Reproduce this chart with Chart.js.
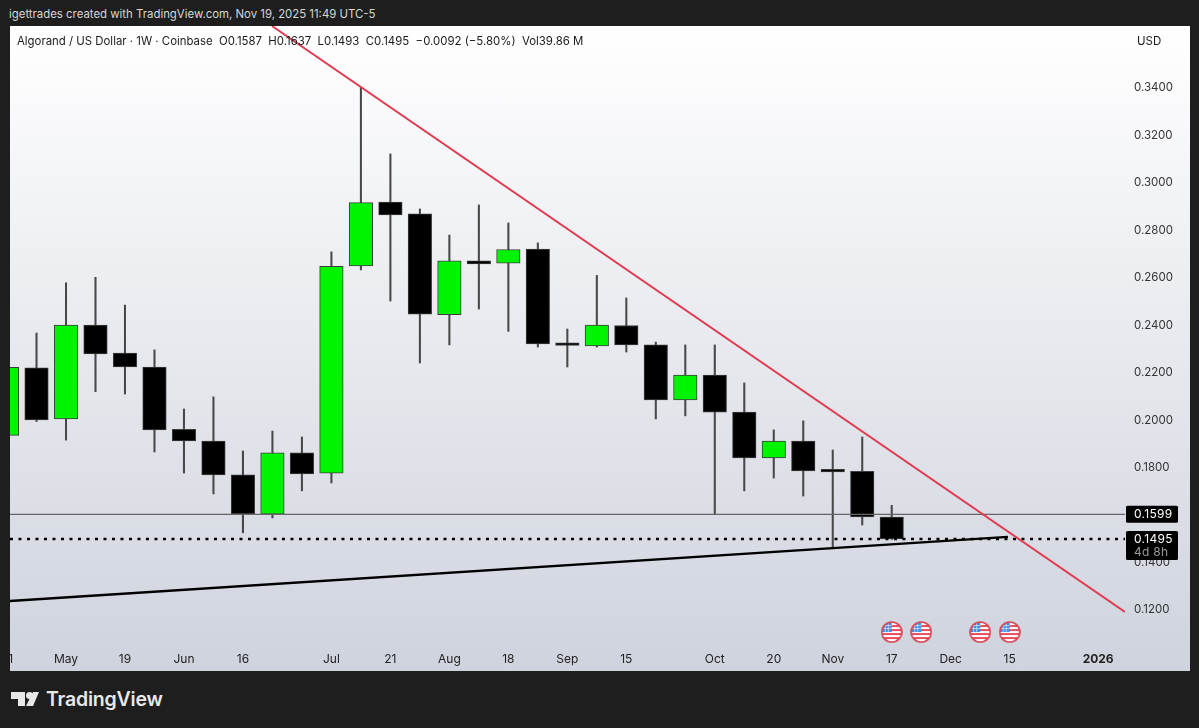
<!DOCTYPE html>
<html><head><meta charset="utf-8">
<script src="https://cdn.jsdelivr.net/npm/chart.js@4/dist/chart.umd.min.js"></script>
<style>
html,body{margin:0;padding:0;background:#1e1e1e;width:1199px;height:728px;overflow:hidden}
#panel{position:absolute;left:10px;top:26px;width:1180px;height:645px;background:linear-gradient(#ffffff,#cfd3dd)}
canvas{position:absolute;left:10px;top:26px}
.t{position:absolute;white-space:pre;font-family:Inter,"Noto Sans",sans-serif}
</style></head><body>
<div id="panel"></div>
<canvas id="c" width="1180" height="645" style="width:1180px;height:645px"></canvas>
<div class="t" style="left:9px;top:6px;font-size:11.4px;line-height:16px;color:#d6d6d6">igettrades created with TradingView.com, Nov 19, 2025 11:49 UTC-5</div>
<div class="t" style="left:17px;top:33px;font-size:11.4px;line-height:16px;color:#1a1a1a">Algorand / US Dollar · 1W · Coinbase  O0.1587  H0.1637  L0.1493  C0.1495  −0.0092 (−5.80%)  Vol39.86 M</div>
<div class="t" style="left:1137px;top:33px;font-size:11.5px;line-height:16px;color:#1a1a1a">USD</div>
<svg style="position:absolute;left:0;top:680px" width="50" height="40"><g fill="#e8e8e8"><path d="M11 12h14v14h-7v-7h-7z"/><circle cx="29.5" cy="15.5" r="3.5"/><path d="M33 12h6l-6 14h-7z"/></g></svg>
<div class="t" style="left:46px;top:687px;font-size:19.5px;line-height:24px;font-weight:600;color:#e8e8e8;letter-spacing:-.2px">TradingView</div>
<script>
// Weekly candles, index 0 = Apr 21 2025
const weeks = [0,1,2,3,4,5,6,7,8,9,10,11,12,13,14,15,16,17,18,19,20,21,22,23,24,25,26,27,28,29,30];
const opens  = [.1932,.2216,.2001,.2397,.2279,.2220,.1957,.1908,.1765,.1600,.1858,.1773,.2646,.2915,.2865,.2441,.2667,.2658,.2717,.2317,.2309,.2395,.2313,.2081,.2186,.2030,.1837,.1908,.1784,.1780,.1587];
const highs  = [.2219,.2363,.2575,.2598,.2481,.2292,.2043,.2094,.1866,.1950,.1925,.2705,.3400,.3118,.2886,.2776,.2903,.2827,.2743,.2380,.2606,.2511,.2325,.2313,.2313,.2153,.1955,.1993,.1870,.1925,.1637];
const lows   = [.1932,.1990,.1912,.2116,.2106,.1862,.1773,.1685,.1521,.1584,.1698,.1731,.2629,.2498,.2237,.2313,.2464,.2370,.2304,.2220,.2304,.2283,.2001,.2014,.1601,.1698,.1752,.1676,.1457,.1554,.1493];
const closes = [.2219,.1997,.2397,.2275,.2220,.1955,.1908,.1765,.1601,.1858,.1769,.2644,.2913,.2861,.2443,.2667,.2654,.2715,.2317,.2311,.2397,.2313,.2081,.2186,.2030,.1837,.1908,.1782,.1778,.1588,.1495];

const xTickWeeks  = [0,2,4,6,8,11,13,15,17,19,21,24,26,28,30,32,34,37];
const xTickLabels = ['21','May','19','Jun','16','Jul','21','Aug','18','Sep','15','Oct','20','Nov','17','Dec','15','2026'];
const yTicks = [.34,.32,.30,.28,.26,.24,.22,.20,.18,.14,.12];

const redLineX = [8.985,37.91],  redLineY = [.3657,.1188];
const supportX = [0.10,33.94],  supportY = [.1234,.1504];
const levelX   = [0.10,37.91];
const levelPrice = .1599, lastPrice = .1495;
const countdown = '4d 8h';
const eventWeeks = [30,31,33,34];
const eventLevel = .1103;

const xMin = 0.101, xMax = 37.91, yMin = .10483, yMax = .36571;
const UP = '#00f400', DOWN = '#000000', EDGE = '#3c3c3c', WICK = '#484848';

function zip(xs, ys){ return xs.map((x,i)=>({x, y:ys[i]})); }

function flagIcon(){
  const s=22, cv=document.createElement('canvas'); cv.width=s; cv.height=s;
  const g=cv.getContext('2d'), r=s/2;
  g.save(); g.beginPath(); g.arc(r,r,r-1,0,7); g.fillStyle='#fff'; g.fill(); g.clip();
  g.fillStyle='#ea4d5c';
  [[8,2],[12,2],[16,2]].forEach(b=>g.fillRect(0,b[0],s,b[1]));
  g.fillRect(11,4,s,2);
  g.fillStyle='#3f8fe8'; g.fillRect(0,0,11,11);
  g.fillStyle='rgba(255,255,255,.7)';
  [4,7].forEach(v=>{g.fillRect(v,0,.8,11);g.fillRect(0,v,11,.8);});
  g.restore();
  g.beginPath(); g.arc(r,r,r-1,0,7); g.strokeStyle='#d8414f'; g.lineWidth=1.6; g.stroke();
  return cv;
}

const priceTags = {
  id:'priceTags',
  afterDraw(ch){
    const g=ch.ctx, y=ch.scales.y, a=ch.chartArea, x0=a.right+1, w=52;
    const rr=(top,h)=>{g.beginPath();g.roundRect(x0,top,w,h,1.5);g.fillStyle='#000';g.fill();};
    g.save();
    g.textBaseline='middle'; g.textAlign='left'; g.font='12px Inter, sans-serif'; g.letterSpacing='0.3px';
    const py=y.getPixelForValue(levelPrice), ly=y.getPixelForValue(lastPrice);
    rr(py-8.5,17); rr(ly-8,29);
    g.fillStyle='#fff';
    g.fillText(levelPrice.toFixed(4),x0+8,py+.5);
    g.fillText(lastPrice.toFixed(4),x0+8,ly+.5);
    g.fillStyle='#9a9a9a';
    g.fillText(countdown,x0+8,ly+13.5);
    g.restore();
  }
};

function noEdgePadding(s){
  s._calculatePadding=function(){this.paddingLeft=this.paddingRight=this.paddingTop=this.paddingBottom=0;};
}

new Chart(document.getElementById('c'),{
  type:'bar',
  plugins:[priceTags],
  data:{datasets:[
    {type:'line',label:'Resistance',data:zip(redLineX,redLineY),borderColor:'#e23a50',borderWidth:2,pointRadius:0,order:0},
    {type:'line',label:'Support',data:zip(supportX,supportY),borderColor:'#000',borderWidth:2.4,pointRadius:0,order:1},
    {type:'line',label:'Last',data:zip(levelX,[lastPrice,lastPrice]),borderColor:'#000',borderWidth:2.6,borderDash:[3,5.5],pointRadius:0,order:1},
    {type:'line',label:'Level',data:zip(levelX,[levelPrice,levelPrice]),borderColor:'#666',borderWidth:1.4,pointRadius:0,order:2},
    {type:'line',label:'Events',data:eventWeeks.map(x=>({x,y:eventLevel})),showLine:false,pointStyle:flagIcon(),pointRadius:10,order:0,clip:false},
    {label:'Body',data:weeks.map((w,i)=>({x:w,y:[opens[i],closes[i]]})),grouped:false,barThickness:23.5,minBarLength:2.5,
      backgroundColor:weeks.map((w,i)=>closes[i]>=opens[i]?UP:DOWN),borderColor:EDGE,borderWidth:1,borderSkipped:false,order:5},
    {label:'Wick',data:weeks.map((w,i)=>({x:w,y:[lows[i],highs[i]]})),grouped:false,barThickness:1.4,
      backgroundColor:WICK,borderWidth:0,order:6}
  ]},
  options:{
    responsive:false,animation:false,devicePixelRatio:1,
    layout:{padding:0,autoPadding:false},
    plugins:{legend:{display:false},tooltip:{enabled:false},title:{display:false}},
    scales:{
      x:{type:'linear',position:'bottom',min:xMin,max:xMax,offset:false,
        grid:{display:false,drawTicks:false},border:{display:false},
        afterBuildTicks(s){s.ticks=xTickWeeks.map(v=>({value:v}));},
        beforeFit:noEdgePadding,
        afterFit(s){s.height=26;},
        ticks:{autoSkip:false,maxRotation:0,padding:7,color:'#222',
          font:c=>({family:'Inter, sans-serif',size:12,weight:c.tick&&c.tick.value===37?'700':'400'}),
          callback:v=>xTickLabels[xTickWeeks.indexOf(v)]}
      },
      y:{type:'linear',position:'right',min:yMin,max:yMax,
        grid:{display:false,drawTicks:false},border:{display:false},
        afterBuildTicks(s){s.ticks=yTicks.map(v=>({value:v}));},
        beforeFit:noEdgePadding,
        afterFit(s){s.width=65;},
        ticks:{autoSkip:false,padding:9,color:'#333',crossAlign:'near',labelOffset:1,
          font:{family:'Inter, sans-serif',size:11.5},
          callback:v=>v.toFixed(4)}
      }
    }
  }
});
</script>
</body></html>
